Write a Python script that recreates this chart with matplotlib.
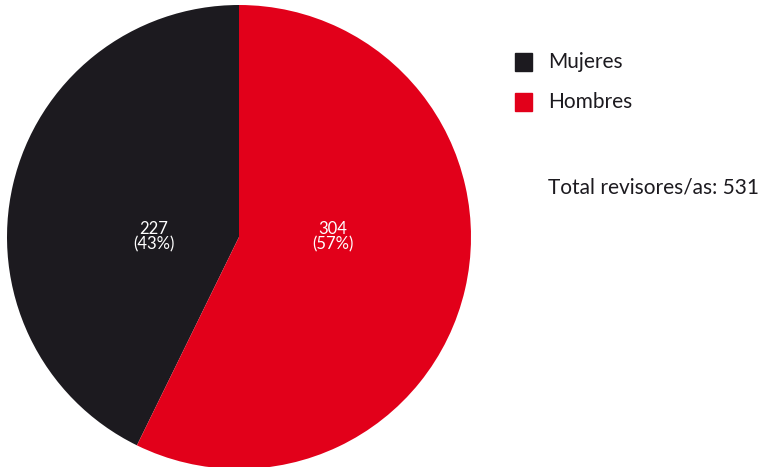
import matplotlib
matplotlib.use("Agg")
from matplotlib import pyplot as plt
from matplotlib.patches import Rectangle

categories = ["Mujeres", "Hombres"]
values = [227, 304]
colors = ["#1c1a1f", "#e2001a"]
total_label = "Total revisores/as: 531"

plt.rcParams['font.family'] = ['Lato', 'DejaVu Sans']

W, H = 761, 467
fig = plt.figure(figsize=(W / 100, H / 100), dpi=100)

# pie axes: center (239, 237) px, radius 232 px
r = 232
cx, cy = 239, 237
ax = fig.add_axes([(cx - r) / W, (H - cy - r) / H, 2 * r / W, 2 * r / H])
ax.pie(values, colors=colors, startangle=90, counterclock=True, radius=1,
       wedgeprops=dict(linewidth=0))
ax.set_xlim(-1, 1)
ax.set_ylim(-1, 1)
ax.set_aspect('equal')
ax.axis('off')

total = sum(values)
label_x = [-0.366, 0.405]
for x, v in zip(label_x, values):
    ax.text(x, 0, "%d\n(%d%%)" % (v, round(v * 100 / total)), color='white',
            ha='center', va='center', fontsize=12, linespacing=0.95)

# legend
for i, (cat, col) in enumerate(zip(categories, colors)):
    y = 62 + 40 * i
    fig.patches.append(Rectangle((515 / W, 1 - (y + 8.5) / H), 17 / W, 17 / H,
                                 transform=fig.transFigure, color=col))
    fig.text(548 / W, 1 - y / H, cat, ha='left', va='center', fontsize=15,
             color='#1c1a1f')
fig.text(548 / W, 1 - 187 / H, total_label, ha='left', va='center',
         fontsize=15, color='#1c1a1f')

plt.savefig("out.png", dpi=100)
